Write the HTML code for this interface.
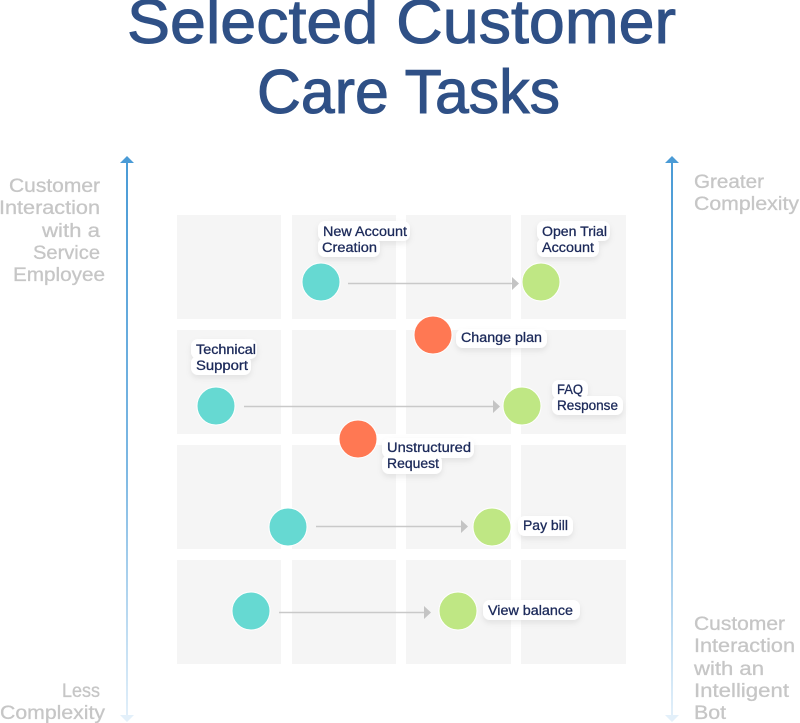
<!DOCTYPE html>
<html><head><meta charset="utf-8"><style>
html,body{margin:0;padding:0;background:#fff}
svg{display:block}
text{font-family:"Liberation Sans",sans-serif}
.t{font-size:62px;fill:#2f5086;stroke:#2f5086;stroke-width:1px}
.g{font-size:19px;fill:#c6c6c6;stroke:#c6c6c6;stroke-width:.3px}
.l{font-size:13.5px;fill:#1c2a5a;stroke:#1c2a5a;stroke-width:.3px}
.h{fill:#fff;filter:url(#s)}
</style></head><body>
<svg width="800" height="723" viewBox="0 0 800 723" xmlns="http://www.w3.org/2000/svg">
<defs>
<linearGradient id="a" x1="0" y1="0" x2="0" y2="1"><stop offset="0" stop-color="#4a9bd6"/><stop offset=".55" stop-color="#7db8e3"/><stop offset="1" stop-color="#e3f0fa"/></linearGradient>
<filter id="s" x="-30%" y="-40%" width="160%" height="190%"><feDropShadow dx="0" dy="3" stdDeviation="3" flood-color="#000" flood-opacity=".08"/></filter>
</defs>
<text class="t" x="127" y="43" textLength="549" lengthAdjust="spacingAndGlyphs">Selected Customer</text>
<text class="t" x="257" y="113" textLength="303" lengthAdjust="spacingAndGlyphs">Care Tasks</text>

<g fill="#f5f5f5">
<rect x="177" y="215" width="104" height="104"/><rect x="292" y="215" width="104" height="104"/><rect x="406" y="215" width="105" height="104"/><rect x="521" y="215" width="105" height="104"/>
<rect x="177" y="330" width="104" height="104"/><rect x="292" y="330" width="104" height="104"/><rect x="406" y="330" width="105" height="104"/><rect x="521" y="330" width="105" height="104"/>
<rect x="177" y="445" width="104" height="104"/><rect x="292" y="445" width="104" height="104"/><rect x="406" y="445" width="105" height="104"/><rect x="521" y="445" width="105" height="104"/>
<rect x="177" y="560" width="104" height="104"/><rect x="292" y="560" width="104" height="104"/><rect x="406" y="560" width="105" height="104"/><rect x="521" y="560" width="105" height="104"/>
</g>

<rect x="126" y="160" width="2" height="560" fill="url(#a)"/>
<rect x="671" y="160" width="2" height="560" fill="url(#a)"/>
<path d="M120 163L127 156L134 163Z M665 163L672 156L679 163Z" fill="#4a9bd6"/>
<path d="M120 715L127 722L134 715Z M665 715L672 722L679 715Z" fill="#e3f0fa"/>

<g class="g">
<text x="100" y="192" text-anchor="end" textLength="91" lengthAdjust="spacingAndGlyphs">Customer</text>
<text x="100" y="214" text-anchor="end" textLength="101" lengthAdjust="spacingAndGlyphs">Interaction</text>
<text x="100" y="237" text-anchor="end" textLength="58" lengthAdjust="spacingAndGlyphs">with a</text>
<text x="100" y="259" text-anchor="end" textLength="67" lengthAdjust="spacingAndGlyphs">Service</text>
<text x="105" y="281" text-anchor="end" textLength="92" lengthAdjust="spacingAndGlyphs">Employee</text>
<text x="100" y="697" text-anchor="end" textLength="38" lengthAdjust="spacingAndGlyphs">Less</text>
<text x="105" y="719" text-anchor="end" textLength="105" lengthAdjust="spacingAndGlyphs">Complexity</text>
<text x="694" y="188" textLength="70" lengthAdjust="spacingAndGlyphs">Greater</text>
<text x="694" y="210" textLength="105" lengthAdjust="spacingAndGlyphs">Complexity</text>
<text x="694" y="630" textLength="91" lengthAdjust="spacingAndGlyphs">Customer</text>
<text x="694" y="652" textLength="101" lengthAdjust="spacingAndGlyphs">Interaction</text>
<text x="694" y="675" textLength="70" lengthAdjust="spacingAndGlyphs">with an</text>
<text x="694" y="697" textLength="95" lengthAdjust="spacingAndGlyphs">Intelligent</text>
<text x="694" y="719" textLength="32" lengthAdjust="spacingAndGlyphs">Bot</text>
</g>

<g stroke="#c9c9c9" stroke-width="1.5" fill="none">
<path d="M348 283.500H514"/><path d="M244 406.500H493"/><path d="M316 526.500H462"/><path d="M279 612.500H425"/>
</g>
<g fill="#c4c4c4">
<path d="M512 277L519 283.500L512 290Z"/><path d="M493 400L500 406.500L493 413Z"/><path d="M461 520L468 526.500L461 533Z"/><path d="M424 606L431 612.500L424 619Z"/>
</g>

<g stroke="#fff" stroke-width="1">
<circle cx="321" cy="282" r="19" fill="#66d9d2"/><circle cx="216" cy="406" r="19" fill="#66d9d2"/><circle cx="288" cy="527" r="19" fill="#66d9d2"/><circle cx="251" cy="611" r="19" fill="#66d9d2"/>
<circle cx="541" cy="282" r="19" fill="#bfe784"/><circle cx="522" cy="406" r="19" fill="#bfe784"/><circle cx="492" cy="527" r="19" fill="#bfe784"/><circle cx="458" cy="611" r="19" fill="#bfe784"/>
<circle cx="433" cy="335" r="19" fill="#ff7853"/><circle cx="358" cy="439" r="19" fill="#ff7853"/>
</g>

<g class="h">
<rect x="318" y="221" width="92" height="20" rx="7"/><rect x="318" y="238" width="62" height="19" rx="7"/>
<rect x="537" y="221" width="73" height="20" rx="7"/><rect x="537" y="238" width="62" height="19" rx="7"/>
<rect x="456" y="329" width="91" height="19" rx="7"/>
<rect x="552" y="380" width="36" height="19" rx="7"/><rect x="552" y="396" width="71" height="19" rx="7"/>
<rect x="191" y="339" width="66" height="20" rx="7"/><rect x="191" y="356" width="60" height="19" rx="7"/>
<rect x="382" y="438" width="92" height="20" rx="7"/><rect x="382" y="455" width="60" height="19" rx="7"/>
<rect x="518" y="516" width="55" height="20" rx="7"/>
<rect x="483" y="600" width="97" height="20" rx="7"/>
</g>
<g class="l">
<text x="323" y="236" textLength="84" lengthAdjust="spacingAndGlyphs">New Account</text>
<text x="322" y="252" textLength="55" lengthAdjust="spacingAndGlyphs">Creation</text>
<text x="542" y="236" textLength="65" lengthAdjust="spacingAndGlyphs">Open Trial</text>
<text x="542" y="252" textLength="52" lengthAdjust="spacingAndGlyphs">Account</text>
<text x="461" y="342" textLength="81" lengthAdjust="spacingAndGlyphs">Change plan</text>
<text x="557" y="394" textLength="26" lengthAdjust="spacingAndGlyphs">FAQ</text>
<text x="557" y="410" textLength="61" lengthAdjust="spacingAndGlyphs">Response</text>
<text x="196" y="354" textLength="60" lengthAdjust="spacingAndGlyphs">Technical</text>
<text x="196" y="370" textLength="52" lengthAdjust="spacingAndGlyphs">Support</text>
<text x="387" y="452" textLength="84" lengthAdjust="spacingAndGlyphs">Unstructured</text>
<text x="387" y="468" textLength="52" lengthAdjust="spacingAndGlyphs">Request</text>
<text x="523" y="530" textLength="45" lengthAdjust="spacingAndGlyphs">Pay bill</text>
<text x="488" y="615" textLength="85" lengthAdjust="spacingAndGlyphs">View balance</text>
</g>
</svg>
</body></html>
